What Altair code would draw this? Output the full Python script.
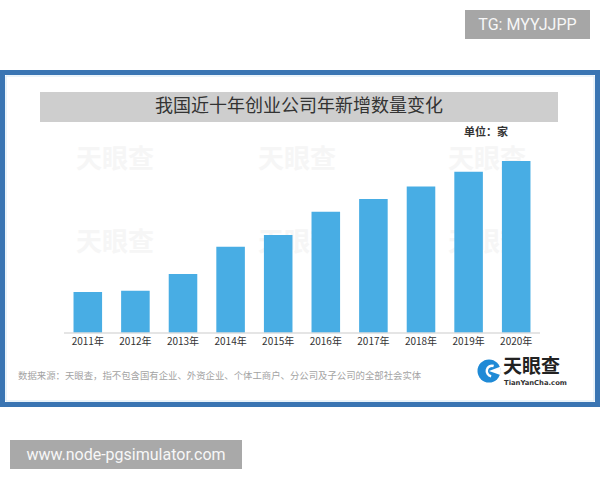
import altair as alt
import pandas as pd

# ---- data ----
years = ["2011年", "2012年", "2013年", "2014年", "2015年",
         "2016年", "2017年", "2018年", "2019年", "2020年"]
# relative new-company counts (no value axis in source)
values = [41, 42.3, 59, 86.3, 98, 121.3, 134, 146.5, 161.3, 172]

title_text = "我国近十年创业公司年新增数量变化"
unit_text = "单位：家"
source_text = "数据来源：天眼查，指不包含国有企业、外资企业、个体工商户、分公司及子公司的全部社会实体"
tag_text = "TG: MYYJJPP"
url_text = "www.node-pgsimulator.com"
logo_cn = "天眼查"
logo_en = "TianYanCha.com"

df = pd.DataFrame({"year": years, "value": values})
one = pd.DataFrame({"k": [0]})

CJK = "Noto Sans CJK SC"

def box(x1, x2, y1, y2, **kw):
    return alt.Chart(one).mark_rect(**kw).encode(
        x=alt.value(x1), x2=alt.value(x2), y=alt.value(y1), y2=alt.value(y2))

def label(txt, x, y, **kw):
    return alt.Chart(one).mark_text(**kw).encode(
        x=alt.value(x), y=alt.value(y), text=alt.value(txt))

# frame
frame = box(2.5, 597.5, 72.5, 404.5, fill="white", stroke="#3a75b3", strokeWidth=5)
inner = box(6, 594, 76, 401, fill="white", stroke="#d6e8f5", strokeWidth=1)

# tag boxes
tag_box = box(465, 590, 10, 39, fill="#a6a6a6")
tag_lbl = label(tag_text, 527.5, 25, font="Roboto", fontSize=16, color="#f7f7f7",
                align="center", baseline="middle")
url_box = box(10, 242, 440, 469, fill="#a9a9a9")
url_lbl = label(url_text, 126, 455, font="Roboto", fontSize=16, color="#f7f7f7",
                align="center", baseline="middle")

# title bar
title_bar = box(40, 558, 92, 122, fill="#cecece")
title_lbl = label(title_text, 299, 107, font=CJK, fontSize=18, color="#333333",
                  align="center", baseline="middle")
unit_lbl = label(unit_text, 464, 133, font=CJK, fontSize=11, fontWeight="bold",
                 color="#333333", align="left", baseline="middle")

# faint watermarks
wm = []
for wx in [115, 297, 487]:
    for wy in [160, 243]:
        wm.append(label(logo_cn, wx, wy, font=CJK, fontSize=26, fontWeight="bold",
                        color="#f6f6f6", align="center", baseline="middle"))

# bars
xscale = alt.Scale(range=[64, 540], paddingInner=0.4, paddingOuter=0.2)
yscale = alt.Scale(domain=[0, 180], range=[333, 153])
bars = alt.Chart(df).mark_bar(color="#48ade4").encode(
    x=alt.X("year:N", sort=years, scale=xscale, axis=None),
    y=alt.Y("value:Q", scale=yscale, axis=None),
)
axis_line = alt.Chart(one).mark_rule(color="#dcdcdc", strokeWidth=1.5).encode(
    x=alt.value(64), x2=alt.value(540), y=alt.value(333))
xlabels = alt.Chart(df).mark_text(font=CJK, fontSize=10, color="#333333",
                                  baseline="middle").encode(
    x=alt.X("year:N", sort=years, scale=xscale, axis=None),
    y=alt.value(342),
    text="year:N",
)

# footnote
src_lbl = label(source_text, 18, 376, font=CJK, fontSize=9.4, color="#a3a3a3",
                align="left", baseline="middle")

# logo
logo_circle = alt.Chart(one).mark_arc(color="#1f8ad6", innerRadius=0, outerRadius=11.5,
                                      theta=0, theta2=6.2832).encode(
    x=alt.value(489), y=alt.value(371))
logo_swoosh = alt.Chart(one).mark_arc(color="white", innerRadius=4, outerRadius=6.5,
                                      theta=3.3, theta2=6.6).encode(
    x=alt.value(492), y=alt.value(371))
logo_notch = alt.Chart(one).mark_arc(color="white", innerRadius=0, outerRadius=12,
                                     theta=1.2, theta2=1.9).encode(
    x=alt.value(489), y=alt.value(371))
logo_cn_lbl = label(logo_cn, 503, 366.5, font=CJK, fontSize=19, fontWeight="bold",
                    color="#222222", align="left", baseline="middle")
logo_en_lbl = label(logo_en, 504, 383, font="DejaVu Sans", fontSize=6.8, fontWeight="bold",
                    color="#333333", align="left", baseline="middle")

chart = alt.layer(
    frame, inner, *wm, tag_box, tag_lbl, url_box, url_lbl,
    title_bar, title_lbl, unit_lbl,
    bars, axis_line, xlabels, src_lbl,
    logo_circle, logo_swoosh, logo_notch, logo_cn_lbl, logo_en_lbl,
).properties(
    width=600, height=480,
    autosize=alt.AutoSizeParams(type="none"),
    padding=0, background="white",
).configure_view(stroke=None)

chart.save("out.html", embed_options={"renderer": "svg", "actions": False})
